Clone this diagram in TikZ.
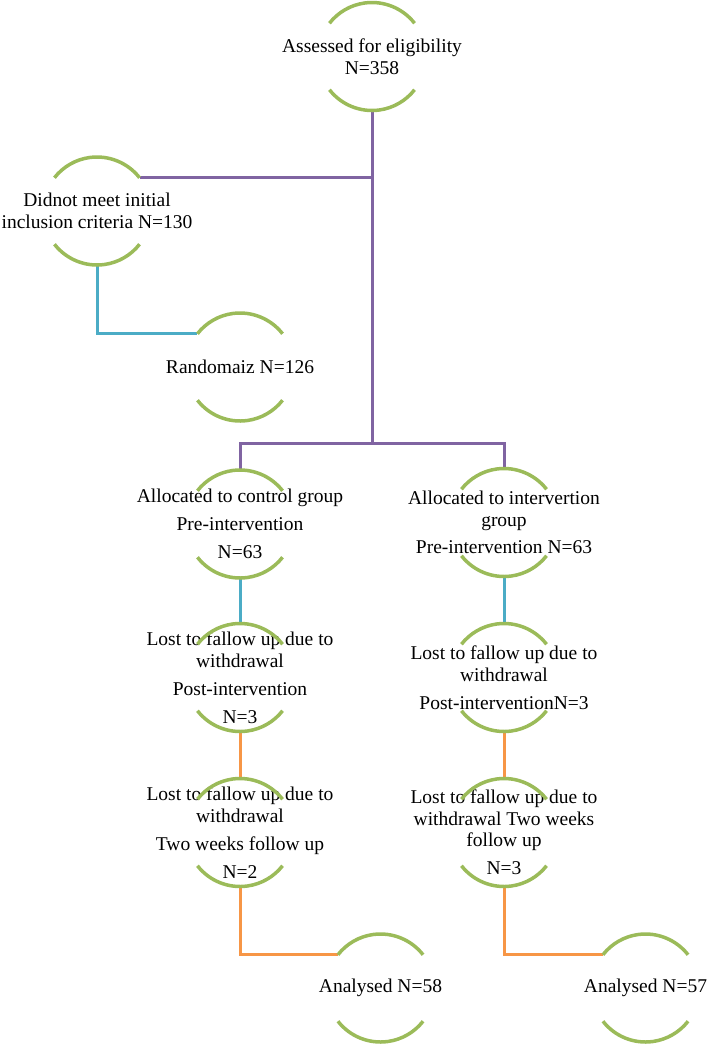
\documentclass[tikz,border=0pt]{standalone}
\usepackage{fontspec}
\setmainfont{Liberation Serif}
\definecolor{ringgreen}{HTML}{9BBB59}
\definecolor{linkpurple}{HTML}{8064A2}
\definecolor{linkblue}{HTML}{4BACC6}
\definecolor{linkorange}{HTML}{F79646}
\begin{document}
\begin{tikzpicture}[x=1pt,y=-1pt,
  ring/.style={circle,minimum size=108pt,inner sep=0pt,outer sep=0pt,draw=none},
  txt/.style={align=center,inner sep=0pt,font=\fontsize{19.5}{21.5}\selectfont},
  arcline/.style={draw=ringgreen,line width=3.5pt},
  purplelink/.style={draw=linkpurple,line width=3pt},
  bluelink/.style={draw=linkblue,line width=3pt},
  orangelink/.style={draw=linkorange,line width=3pt}]
\useasboundingbox (0,0) rectangle (709,1045);
% rings
\node[ring] (a) at (372,56.5) {};
\node[ring] (b) at (97,211) {};
\node[ring] (c) at (240,367) {};
\node[ring] (d) at (240,524) {};
\node[ring] (e) at (504,522.5) {};
\node[ring] (f) at (240,677.5) {};
\node[ring] (g) at (504,677.5) {};
\node[ring] (h) at (240,832.5) {};
\node[ring] (i) at (504,832.5) {};
\node[ring] (j) at (380.5,988) {};
\node[ring] (k) at (645.5,988) {};
% texts
\node[txt] (at) at (a) {Assessed for eligibility\\N=358};
\node[txt] (bt) at (b) {Didnot meet initial\\inclusion criteria N=130};
\node[txt] (ct) at (c) {Randomaiz N=126};
\node[txt] (dt) at (d) {Allocated to control group\\[6pt]Pre-intervention\\[6.5pt]N=63};
\node[txt] (et) at (e) {Allocated to intervertion\\group\\[6pt]Pre-intervention N=63};
\node[txt] (ft) at (f) {Lost to fallow up due to\\withdrawal\\[6.5pt]Post-intervention\\[6.5pt]N=3};
\node[txt] (gt) at (g) {Lost to fallow up due to\\withdrawal\\[6.5pt]Post-interventionN=3};
\node[txt] (ht) at (h) {Lost to fallow up due to\\withdrawal\\[6.5pt]Two weeks follow up\\[6.5pt]N=2};
\node[txt] (it) at (i) {Lost to fallow up due to\\withdrawal Two weeks\\follow up\\[6.5pt]N=3};
\node[txt] (jt) at (j) {Analysed N=58};
\node[txt] (kt) at (k) {Analysed N=57};
% connectors
\coordinate (split) at (372,443);
\draw[purplelink] (a.south) -- (split);
\draw[purplelink] (b.38) -- (b.38 -| a.south);
\draw[purplelink] (d.north) |- (split);
\draw[purplelink] (e.north) |- (split);
\draw[bluelink] (b.south) |- (c.142);
\draw[bluelink] (d.south) -- (f.north);
\draw[bluelink] (e.south) -- (g.north);
\draw[orangelink] (f.south) -- (h.north);
\draw[orangelink] (g.south) -- (i.north);
\draw[orangelink] (h.south) |- (j.142);
\draw[orangelink] (i.south) |- (k.142);
% arcs
\foreach \n in {a,b,c,d,e,f,g,h,i,j,k}{
  \draw[arcline] (\n.38) arc[start angle=38,end angle=142,radius=54pt];
  \draw[arcline] (\n.218) arc[start angle=218,end angle=322,radius=54pt];
}
\end{tikzpicture}
\end{document}
